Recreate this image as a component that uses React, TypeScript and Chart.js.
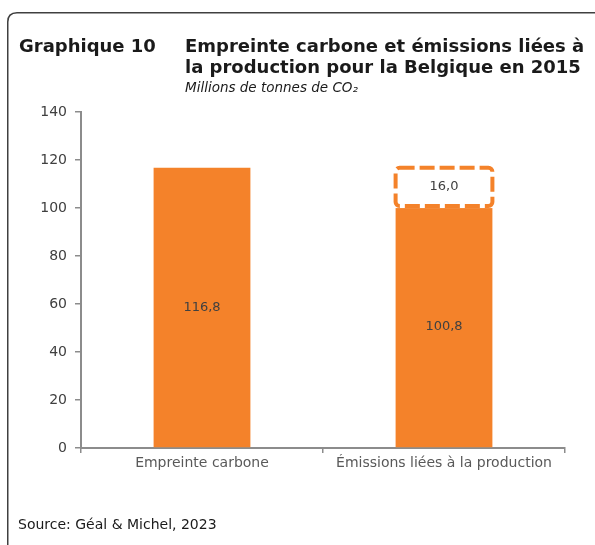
import React, { useEffect, useRef } from "react";
import { Chart, registerables } from "chart.js";

Chart.register(...registerables);

const categories = ["Empreinte carbone", "Émissions liées à la production"];
const baseValues = [116.8, 100.8];
const extraValues: (number | null)[] = [null, 16.0];
const yMin = 0;
const yMax = 140;
const yStep = 20;

const ORANGE = "#F4822A";
const AXIS = "#8C8C8C";
const TICK_TEXT = "#595959";

const fmt = (v: number) => v.toFixed(1).replace(".", ",");

const barExtras = {
  id: "barExtras",
  afterDatasetsDraw(chart: any) {
    const ctx = chart.ctx;
    const meta2 = chart.getDatasetMeta(1);
    meta2.data.forEach((el: any, i: number) => {
      const v = chart.data.datasets[1].data[i];
      if (v == null) return;
      const left = el.x - el.width / 2;
      const top = el.y;
      const h = el.base - el.y;
      ctx.save();
      ctx.fillStyle = "#ffffff";
      ctx.fillRect(left - 1, top, el.width + 2, h + 2);
      ctx.strokeStyle = ORANGE;
      ctx.lineWidth = 4;
      ctx.setLineDash([15, 5]);
      ctx.lineCap = "butt";
      ctx.beginPath();
      (ctx as any).roundRect(left, top, el.width, h, 4);
      ctx.stroke();
      ctx.restore();
    });
    ctx.save();
    ctx.font = "13px 'DejaVu Sans'";
    ctx.fillStyle = "#404040";
    ctx.textAlign = "center";
    ctx.textBaseline = "middle";
    chart.data.datasets.forEach((ds: any, di: number) => {
      const meta = chart.getDatasetMeta(di);
      meta.data.forEach((el: any, i: number) => {
        const v = ds.data[i];
        if (v == null) return;
        ctx.fillText(fmt(v), el.x, (el.y + el.base) / 2);
      });
    });
    ctx.restore();
  },
};

function ChartCanvas() {
  const ref = useRef<HTMLCanvasElement | null>(null);
  useEffect(() => {
    if (!ref.current) return;
    const chart = new Chart(ref.current, {
      type: "bar",
      data: {
        labels: categories,
        datasets: [
          {
            data: baseValues,
            backgroundColor: ORANGE,
            borderWidth: 0,
            stack: "s",
            barPercentage: 0.4,
            categoryPercentage: 1,
          },
          {
            data: extraValues,
            backgroundColor: "#ffffff",
            borderWidth: 0,
            stack: "s",
            barPercentage: 0.4,
            categoryPercentage: 1,
          },
        ],
      },
      options: {
        responsive: false,
        animation: false,
        events: [],
        layout: { padding: { left: 0, top: 112, right: 30, bottom: 67 } },
        plugins: {
          legend: { display: false },
          tooltip: { enabled: false },
          title: { display: false },
        },
        scales: {
          x: {
            stacked: true,
            grid: {
              display: true,
              drawOnChartArea: false,
              drawTicks: true,
              tickLength: 5,
              color: AXIS,
              lineWidth: 1.5,
              offset: true,
            },
            border: { display: true, color: AXIS, width: 2 },
            ticks: {
              color: TICK_TEXT,
              font: { family: "'DejaVu Sans'", size: 14 },
              padding: 2,
              maxRotation: 0,
              autoSkip: false,
            },
            afterFit: (s: any) => {
              s.height = 30;
            },
          },
          y: {
            stacked: true,
            min: yMin,
            max: yMax,
            grid: {
              display: true,
              drawOnChartArea: false,
              drawTicks: true,
              tickLength: 6,
              color: AXIS,
              lineWidth: 1.5,
            },
            border: { display: true, color: AXIS, width: 2 },
            ticks: {
              stepSize: yStep,
              color: "#404040",
              font: { family: "'DejaVu Sans'", size: 14 },
              padding: 8,
            },
            afterFit: (s: any) => {
              s.width = 81;
            },
          },
        },
      },
      plugins: [barExtras],
    });
    return () => chart.destroy();
  }, []);
  return (
    <canvas
      ref={ref}
      width={595}
      height={545}
      style={{ position: "absolute", left: 0, top: 0, width: 595, height: 545 }}
    />
  );
}

export default function App() {
  return (
    <div
      style={{
        position: "fixed",
        left: 0,
        top: 0,
        width: 595,
        height: 545,
        background: "#ffffff",
        overflow: "hidden",
        fontFamily: "'DejaVu Sans', sans-serif",
        color: "#1a1a1a",
      }}
    >
      <svg
        width={595}
        height={545}
        style={{ position: "absolute", left: 0, top: 0 }}
      >
        <path
          d="M 7.75 545 L 7.75 22 Q 7.75 12.75 17 12.75 L 595 12.75"
          fill="none"
          stroke="#404040"
          strokeWidth={1.5}
        />
      </svg>
      <ChartCanvas />
      <div
        style={{
          position: "absolute",
          left: 19,
          top: 35,
          fontWeight: "bold",
          fontSize: 18,
          lineHeight: "21px",
          whiteSpace: "nowrap",
        }}
      >
        Graphique 10
      </div>
      <div
        style={{
          position: "absolute",
          left: 185,
          top: 35,
          fontWeight: "bold",
          fontSize: 18,
          lineHeight: "21px",
          whiteSpace: "nowrap",
        }}
      >
        Empreinte carbone et émissions liées à
        <br />
        la production pour la Belgique en 2015
      </div>
      <div
        style={{
          position: "absolute",
          left: 185,
          top: 79,
          fontStyle: "italic",
          fontSize: 13.5,
          lineHeight: "17px",
          whiteSpace: "nowrap",
        }}
      >
        Millions de tonnes de CO₂
      </div>
      <div
        style={{
          position: "absolute",
          left: 18,
          top: 516,
          fontSize: 14,
          lineHeight: "17px",
          whiteSpace: "nowrap",
          color: "#1a1a1a",
        }}
      >
        Source: Géal &amp; Michel, 2023
      </div>
    </div>
  );
}
